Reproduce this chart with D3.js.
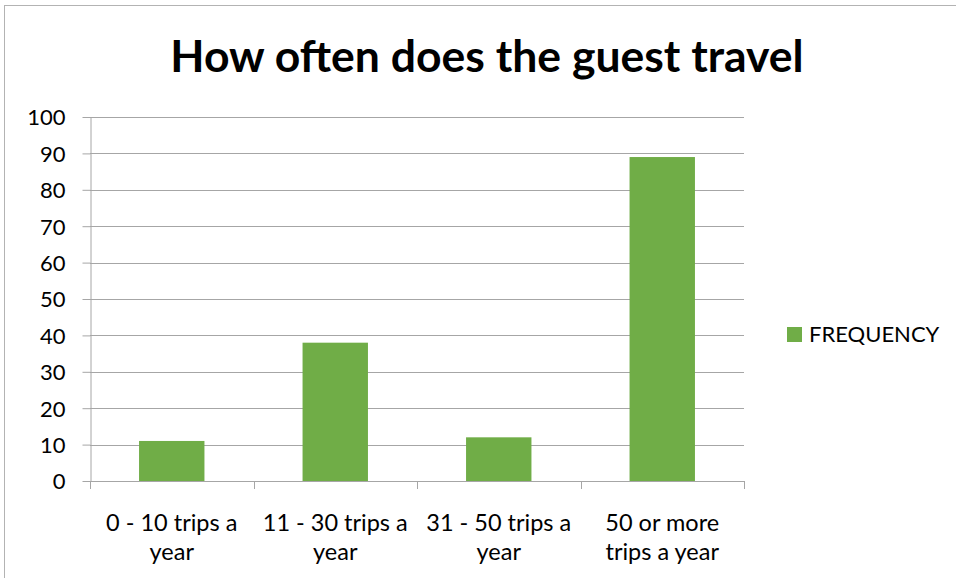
<!DOCTYPE html>
<html>
<head>
<meta charset="utf-8">
<script src="https://cdn.jsdelivr.net/npm/d3@7"></script>
<style>
  html, body { margin: 0; padding: 0; background: #fff; }
  svg { display: block; }
  text { font-family: Lato, "Open Sans", sans-serif; fill: #000; }
</style>
</head>
<body>
<svg id="chart" width="956" height="578"></svg>
<script>
// Survey answers: how often the guest travels
const categories = [
  ["0 - 10 trips a", "year"],
  ["11 - 30 trips a", "year"],
  ["31 - 50 trips a", "year"],
  ["50 or more", "trips a year"]
];
const frequency = [11, 38, 12, 89];
const yTicks = [0, 10, 20, 30, 40, 50, 60, 70, 80, 90, 100];
const seriesName = "FREQUENCY";
const chartTitle = "How often does the guest travel";

const W = 956, H = 578;
const plot = { left: 90, right: 744, top: 117, bottom: 481 };
const barColor = "#70ad47";
const gridColor = "#a6a6a6";

const svg = d3.select("#chart");

// outer chart frame
svg.append("rect")
  .attr("x", 4.5).attr("y", 5.5)
  .attr("width", W + 10).attr("height", H + 10)
  .attr("fill", "none").attr("stroke", "#b3b3b3").attr("stroke-width", 1);

svg.append("text")
  .attr("x", 487).attr("y", 72)
  .attr("text-anchor", "middle")
  .style("font-weight", 700)
  .style("font-size", "44.5px")
  .text(chartTitle);

const keys = categories.map((c, i) => i);
const x = d3.scaleBand()
  .domain(keys)
  .range([plot.left, plot.right])
  .paddingInner(0.6)
  .paddingOuter(0.3);
const xCat = d3.scaleBand().domain(keys).range([plot.left, plot.right]).padding(0);

const y = d3.scaleLinear().domain([0, 100]).range([plot.bottom, plot.top]);

// horizontal gridlines
svg.append("g")
  .selectAll("line")
  .data(yTicks)
  .join("line")
  .attr("x1", plot.left).attr("x2", plot.right)
  .attr("y1", d => Math.round(y(d)) + 0.5).attr("y2", d => Math.round(y(d)) + 0.5)
  .attr("stroke", gridColor).attr("stroke-width", 1);

// bars
svg.append("g")
  .selectAll("rect")
  .data(frequency)
  .join("rect")
  .attr("x", (d, i) => x(i))
  .attr("width", x.bandwidth())
  .attr("y", d => y(d))
  .attr("height", d => y(0) - y(d))
  .attr("fill", barColor);

// y axis
const yAxis = svg.append("g")
  .attr("transform", `translate(${plot.left + 0.5},0)`)
  .call(d3.axisLeft(y).tickValues(yTicks).tickSize(8).tickPadding(17).tickSizeOuter(0));
yAxis.select(".domain").attr("stroke", gridColor);
yAxis.selectAll(".tick line").attr("stroke", gridColor);
yAxis.selectAll(".tick text")
  .style("font-size", "22px")
  .attr("dy", "0.36em");

// x axis: tick marks at category boundaries
const bounds = keys.map(k => xCat(k)).concat([plot.right]);
svg.append("g")
  .selectAll("line")
  .data(bounds)
  .join("line")
  .attr("x1", d => Math.round(d) + 0.5).attr("x2", d => Math.round(d) + 0.5)
  .attr("y1", plot.bottom).attr("y2", plot.bottom + 8)
  .attr("stroke", gridColor);
svg.append("line")
  .attr("x1", plot.left).attr("x2", plot.right)
  .attr("y1", Math.round(y(0)) + 0.5).attr("y2", Math.round(y(0)) + 0.5)
  .attr("stroke", gridColor);

// category labels (two lines each)
const labels = svg.append("g")
  .selectAll("text")
  .data(categories)
  .join("text")
  .attr("text-anchor", "middle")
  .style("font-size", "23.5px");
labels.selectAll("tspan")
  .data((d, i) => d.map(line => ({ line, i })))
  .join("tspan")
  .attr("x", d => xCat(d.i) + xCat.bandwidth() / 2)
  .attr("y", (d, j) => 531 + j * 29)
  .text(d => d.line);

// legend
const legend = svg.append("g");
legend.append("rect")
  .attr("x", 787).attr("y", 327).attr("width", 15).attr("height", 15)
  .attr("fill", barColor);
legend.append("text")
  .attr("x", 809).attr("y", 342)
  .style("font-size", "22px")
  .text(seriesName);
</script>
</body>
</html>
